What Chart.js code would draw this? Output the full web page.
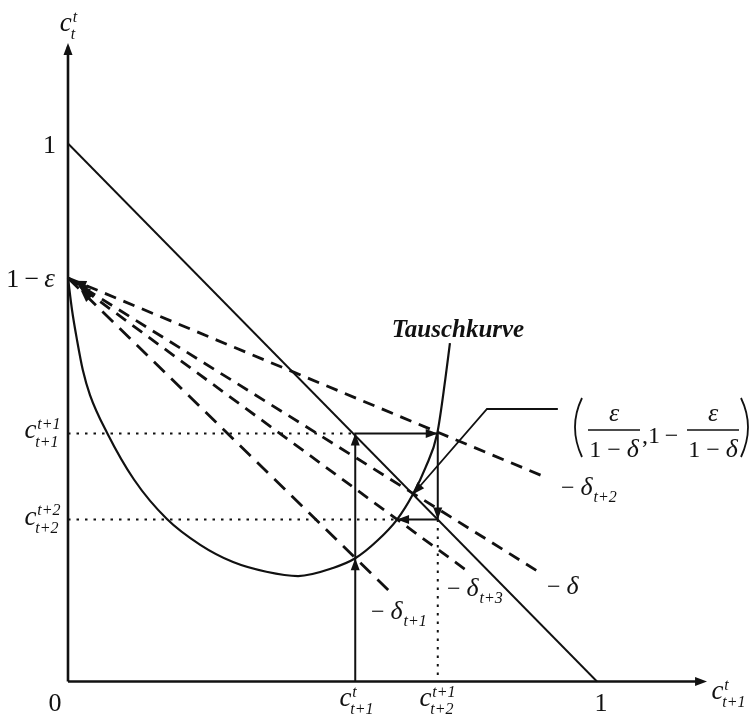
<!DOCTYPE html>
<html>
<head>
<meta charset="utf-8">
<script src="https://cdn.jsdelivr.net/npm/chart.js@4.4.0/dist/chart.umd.min.js"></script>
<style>
  html, body { margin: 0; padding: 0; background: #fff; }
  #wrap { width: 753px; height: 723px; }
</style>
</head>
<body>
<div id="wrap"><canvas id="myChart"></canvas></div>
<script>
var ink = '#111';
var serif = '"Liberation Serif", "DejaVu Serif", serif';

// Tauschkurve
var curveX = [0, 0.0076, 0.017, 0.028, 0.0416, 0.074, 0.125, 0.187, 0.250, 0.312, 0.375, 0.435, 0.501, 0.543, 0.585, 0.622, 0.652, 0.676, 0.698, 0.713, 0.722];
var curveY = [0.750, 0.6905, 0.635, 0.579, 0.5325, 0.462, 0.375, 0.302, 0.254, 0.222, 0.204, 0.196, 0.211, 0.229, 0.262, 0.301, 0.348, 0.398, 0.461, 0.560, 0.629];

// dashed rays out of 1 - eps, slopes -delta_t+2, -delta, -delta_t+3, -delta_t+1
var rayOrigin = [0, 0.75];
var rayEndX = [0.907, 0.896, 0.754, 0.615];
var rayEndY = [0.378, 0.200, 0.206, 0.161];
var rayLabels = ['t+2', '', 't+3', 't+1'];

// adjustment path c(t+1) -> c(t+2)
var stepX = [0.543, 0.543, 0.699, 0.699, 0.622];
var stepY = [0, 0.461, 0.461, 0.301, 0.301];
var curveAtStart = 0.229;

// steady state (eps/(1-delta), 1 - eps/(1-delta))
var fixedPoint = [0.652, 0.348];
var leaderX = [0.926, 0.792, 0.652];
var leaderY = [0.5065, 0.5065, 0.348];

// tick labels
var xTicks = [0.543, 0.699, 1];
var xTickLabels = [['t', 't+1'], ['t+1', 't+2'], '1'];
var yTicks = [1, 0.75, 0.461, 0.301];
var yTickLabels = ['1', '1\u2009\u2212\u2009\u03b5', ['t+1', 't+1'], ['t+2', 't+2']];

function pts(xs, ys) {
  return xs.map(function (x, i) { return { x: x, y: ys[i] }; });
}

function seg(data, width, dash) {
  return {
    data: data,
    showLine: true,
    borderColor: ink,
    borderWidth: width,
    borderDash: dash || [],
    pointRadius: 0,
    tension: 0,
    fill: false
  };
}

var datasets = [];
// axes
datasets.push(seg([{ x: 0, y: 0 }, { x: 1.2, y: 0 }], 2.6));
datasets.push(seg([{ x: 0, y: 0 }, { x: 0, y: 1.18 }], 2.6));
// budget line
datasets.push(seg([{ x: 0, y: 1 }, { x: 1, y: 0 }], 1.9));
// dotted guides
datasets.push(seg([{ x: 0, y: stepY[1] }, { x: stepX[1], y: stepY[1] }], 2, [2.5, 6]));
datasets.push(seg([{ x: 0, y: stepY[3] }, { x: stepX[4], y: stepY[3] }], 2, [2.5, 6]));
datasets.push(seg([{ x: stepX[3], y: stepY[3] }, { x: stepX[3], y: 0 }], 2, [2.5, 6]));
// rays
rayEndX.forEach(function (ex, i) {
  var dash = i === 3 ? [15, 9] : [12, 8];
  datasets.push(seg([{ x: rayOrigin[0], y: rayOrigin[1] }, { x: ex, y: rayEndY[i] }], 2.8, dash));
});
// Tauschkurve
var curve = seg(pts(curveX, curveY), 2.2);
curve.cubicInterpolationMode = 'monotone';
datasets.push(curve);
// path of the adjustment
datasets.push(seg(pts(stepX, stepY), 2));
// leader to the steady state
datasets.push(seg(pts(leaderX, leaderY), 1.8));

function arrowHead(ctx, px, py, ang, len, half) {
  ctx.beginPath();
  ctx.moveTo(px, py);
  ctx.lineTo(px - len * Math.cos(ang) + half * Math.sin(ang), py - len * Math.sin(ang) - half * Math.cos(ang));
  ctx.lineTo(px - len * Math.cos(ang) - half * Math.sin(ang), py - len * Math.sin(ang) + half * Math.cos(ang));
  ctx.closePath();
  ctx.fill();
}

// c with super- and subscript, centred on cx, c's middle on cy
function drawC(ctx, cx, cy, sup, sub, size) {
  var small = Math.round(size * 0.6);
  ctx.font = 'italic ' + size + 'px ' + serif;
  var wc = ctx.measureText('c').width;
  ctx.font = 'italic ' + small + 'px ' + serif;
  var ws = Math.max(ctx.measureText(sup).width, ctx.measureText(sub).width);
  var left = cx - (wc + ws) / 2;
  ctx.textAlign = 'left';
  ctx.textBaseline = 'alphabetic';
  ctx.font = 'italic ' + size + 'px ' + serif;
  ctx.fillText('c', left, cy + size * 0.22);
  ctx.font = 'italic ' + small + 'px ' + serif;
  ctx.fillText(sup, left + wc + 1, cy - size * 0.12);
  ctx.fillText(sub, left + wc - 1, cy + size * 0.52);
}

// "- delta_sub" starting at left, minus sign at y
function drawDelta(ctx, left, y, sub) {
  ctx.textAlign = 'left';
  ctx.textBaseline = 'alphabetic';
  ctx.font = '24px ' + serif;
  ctx.fillText('\u2212', left, y + 8);
  var w = ctx.measureText('\u2212 ').width;
  ctx.font = 'italic 26px ' + serif;
  ctx.fillText('\u03b4', left + w, y + 8);
  var wd = ctx.measureText('\u03b4').width;
  if (sub) {
    ctx.font = 'italic 16px ' + serif;
    ctx.fillText(sub, left + w + wd + 1, y + 15);
  }
}

function fraction(ctx, cx, barY) {
  ctx.textAlign = 'center';
  ctx.textBaseline = 'alphabetic';
  ctx.font = 'italic 26px ' + serif;
  ctx.fillText('\u03b5', cx, barY - 9);
  ctx.font = '24px ' + serif;
  var w1 = ctx.measureText('1 \u2212 ').width;
  ctx.font = 'italic 26px ' + serif;
  var wd = ctx.measureText('\u03b4').width;
  var left = cx - (w1 + wd) / 2;
  ctx.textAlign = 'left';
  ctx.font = '24px ' + serif;
  ctx.fillText('1 \u2212 ', left, barY + 27);
  ctx.font = 'italic 26px ' + serif;
  ctx.fillText('\u03b4', left + w1, barY + 27);
  ctx.lineWidth = 1.3;
  ctx.beginPath();
  ctx.moveTo(cx - 26, barY);
  ctx.lineTo(cx + 26, barY);
  ctx.stroke();
}

var diagramMarks = {
  id: 'diagramMarks',
  afterDatasetsDraw: function (chart) {
    var ctx = chart.ctx, sx = chart.scales.x, sy = chart.scales.y;
    function px(v) { return sx.getPixelForValue(v); }
    function py(v) { return sy.getPixelForValue(v); }
    ctx.save();
    ctx.fillStyle = ink;
    ctx.strokeStyle = ink;

    // arrowheads: [from x, from y, tip x, tip y]
    var arrows = [
      [0, 1.1, 0, 1.187],
      [1.1, 0, 1.208, 0],
      [stepX[0], 0.1, stepX[0], curveAtStart],
      [stepX[1], curveAtStart, stepX[1], stepY[1]],
      [stepX[1], stepY[1], stepX[2], stepY[2]],
      [stepX[2], stepY[2], stepX[3], stepY[3]],
      [stepX[3], stepY[3], stepX[4], stepY[4]],
      [leaderX[1], leaderY[1], fixedPoint[0], fixedPoint[1]]
    ];
    rayEndX.forEach(function (ex, i) {
      var t = (0.012 + 0.004 * i) / ex;
      arrows.push([ex, rayEndY[i], rayOrigin[0] + t * ex, rayOrigin[1] + t * (rayEndY[i] - rayOrigin[1])]);
    });
    arrows.forEach(function (a) {
      var x0 = px(a[0]), y0 = py(a[1]), x1 = px(a[2]), y1 = py(a[3]);
      arrowHead(ctx, x1, y1, Math.atan2(y1 - y0, x1 - x0), 12, 4.5);
    });

    // tick labels
    ctx.textBaseline = 'alphabetic';
    var xCentres = [357, 437, 601];
    xTicks.forEach(function (v, i) {
      var lab = xTickLabels[i];
      if (typeof lab === 'string') {
        ctx.font = '26px ' + serif;
        ctx.textAlign = 'center';
        ctx.fillText(lab, px(v) + 4, 711);
      } else {
        drawC(ctx, xCentres[i], 700, lab[0], lab[1], 27);
      }
    });
    var yRight = [56, 55, 58, 58];
    yTicks.forEach(function (v, i) {
      var lab = yTickLabels[i];
      if (typeof lab === 'string') {
        ctx.textAlign = 'right';
        ctx.font = '26px ' + serif;
        if (i === 1) {
          ctx.font = 'italic 27px ' + serif;
          var we = ctx.measureText('\u03b5').width;
          ctx.fillText('\u03b5', yRight[i], py(v) + 9);
          ctx.font = '26px ' + serif;
          ctx.fillText(lab.slice(0, -1), yRight[i] - we, py(v) + 9);
        } else {
          ctx.fillText(lab, yRight[i], py(v) + 9);
        }
      } else {
        drawC(ctx, 42, py(v) - 1, lab[0], lab[1], 27);
      }
    });
    ctx.font = '26px ' + serif;
    ctx.textAlign = 'center';
    ctx.fillText('0', 55, 711);

    // axis titles
    drawC(ctx, 729, 693, 't', 't+1', 27);
    drawC(ctx, 68, 25, 't', 't', 27);

    // curve name
    ctx.font = 'italic bold 25px ' + serif;
    ctx.textAlign = 'center';
    ctx.fillText('Tauschkurve', 458, 337);

    // ray labels
    drawDelta(ctx, 561, 487, rayLabels[0]);
    drawDelta(ctx, 547, 586, rayLabels[1]);
    drawDelta(ctx, 447, 588, rayLabels[2]);
    drawDelta(ctx, 371, 611, rayLabels[3]);

    // steady state coordinates
    ctx.lineWidth = 1.8;
    ctx.beginPath();
    ctx.moveTo(582, 398);
    ctx.quadraticCurveTo(568, 427, 582, 457);
    ctx.stroke();
    ctx.beginPath();
    ctx.moveTo(741, 398);
    ctx.quadraticCurveTo(755, 427, 741, 457);
    ctx.stroke();
    fraction(ctx, 614, 430);
    ctx.font = '24px ' + serif;
    ctx.textAlign = 'left';
    ctx.fillText(',1\u2009\u2212', 642, 443);
    fraction(ctx, 713, 430);

    ctx.restore();
  }
};

var ctx = document.getElementById('myChart').getContext('2d');
var myChart = new Chart(ctx, {
  type: 'scatter',
  data: { datasets: datasets },
  options: {
    responsive: true,
    maintainAspectRatio: false,
    animation: false,
    layout: { padding: { left: 68, right: 23.75, top: 9, bottom: 41.5 } },
    plugins: { legend: { display: false }, tooltip: { enabled: false } },
    datasets: { scatter: { clip: false } },
    scales: {
      x: { type: 'linear', min: 0, max: 1.25, display: false },
      y: { type: 'linear', min: 0, max: 1.25, display: false }
    }
  },
  plugins: [diagramMarks]
});
</script>
</body>
</html>
